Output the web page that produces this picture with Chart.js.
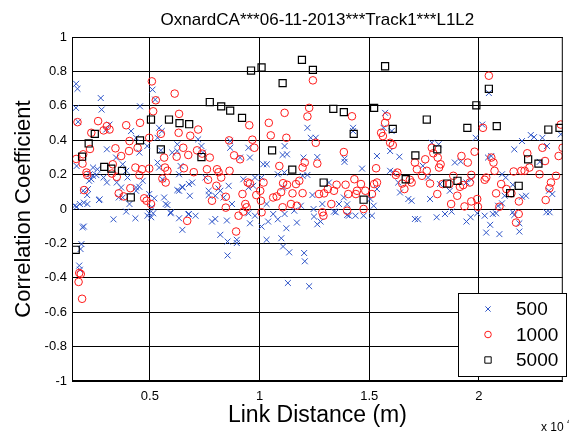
<!DOCTYPE html>
<html>
<head>
<meta charset="utf-8">
<script src="https://cdn.jsdelivr.net/npm/chart.js@4.4.0/dist/chart.umd.min.js"></script>
<style>
  html, body { margin: 0; padding: 0; background: #fff; }
</style>
</head>
<body>
<canvas id="myChart" width="569" height="431"></canvas>
<script>
const titleText = 'OxnardCA***06-11-2013***Track1***L1L2';
const xTicks = [0.5, 1, 1.5, 2];
const yTicks = [-1, -0.8, -0.6, -0.4, -0.2, 0, 0.2, 0.4, 0.6, 0.8, 1];
const seriesNames = ['500', '1000', '5000'];

// window size 500 (blue x)
const pts500 = [
  [0.164,0.728],[0.170,0.699],[0.163,0.588],[0.173,0.507],[0.276,0.645],[0.280,0.578],[0.166,0.250],[0.158,0.019],
  [0.181,0.029],[0.199,0.037],[0.215,0.029],[0.196,0.106],[0.218,0.116],[0.223,0.164],[0.233,0.173],[0.241,0.193],
  [0.226,0.202],[0.241,0.241],[0.256,0.197],[0.261,0.231],[0.268,0.052],[0.304,0.154],[0.289,0.183],[0.304,0.347],
  [0.301,0.462],[0.316,0.491],[0.346,0.299],[0.349,0.154],[0.358,0.067],[0.369,0.125],[0.376,0.067],[0.392,0.222],
  [0.376,0.260],[0.398,0.183],[0.407,0.029],[0.437,0.125],[0.437,0.106],[0.452,0.328],[0.455,0.597],[0.467,0.164],
  [0.488,0.366],[0.497,0.087],[0.509,0.010],[0.515,-0.025],[0.437,0.414],[0.414,0.453],[0.489,-0.039],[0.535,0.270],
  [0.550,0.341],[0.557,0.173],[0.166,0.013],[0.193,-0.106],[0.199,-0.102],[0.188,-0.204],[0.184,-0.233],[0.178,-0.329],
  [0.181,-0.353],[0.334,-0.060],[0.434,-0.054],[0.392,-0.015],[0.497,-0.025],[0.506,-0.048],[0.271,0.056],[0.452,0.129],
  [0.214,0.081],
  [0.512,0.694],[0.524,0.636],[0.542,0.472],[0.554,0.453],[0.535,0.414],[0.602,0.328],[0.625,0.376],[0.625,0.337],
  [0.720,0.405],[0.735,0.366],[0.742,0.328],[0.866,0.395],[0.866,0.356],[0.911,0.299],[0.956,0.299],[0.949,0.356],
  [0.542,0.241],[0.640,0.250],[0.633,0.202],[0.693,0.154],[0.678,0.145],[0.648,0.125],[0.633,0.106],[0.565,0.067],
  [0.572,0.029],[0.595,-0.019],[0.678,-0.029],[0.708,-0.039],[0.682,0.077],[0.753,0.183],[0.768,0.106],[0.798,0.077],
  [0.821,0.106],[0.836,0.067],[0.859,0.135],[0.874,0.029],[0.926,0.173],[0.949,0.125],[0.971,0.135],[0.979,0.183],
  [1.009,0.183],[1.017,0.260],[1.033,0.260],[1.032,0.029],[1.062,-0.029],[1.114,-0.029],[1.114,0.366],[1.107,0.125],
  [0.979,-0.039],[0.798,-0.058],
  [0.520,0.062],[0.595,-0.025],[0.633,-0.054],[0.648,-0.121],[0.675,-0.031],[0.783,-0.073],[0.851,-0.067],[0.821,-0.150],
  [0.854,-0.189],[0.896,-0.179],[0.896,-0.198],[0.854,-0.270],[0.956,-0.083],[1.009,-0.102],[1.032,-0.179],[1.039,-0.073],
  [1.099,-0.170],[1.107,-0.218],[1.122,-0.112],[1.129,-0.430],[0.580,0.023],[0.625,0.110],[0.648,0.129],[0.813,0.119],
  [0.768,0.081],[0.949,-0.025],
  [1.218,0.472],[1.233,0.414],[1.256,0.414],[1.426,0.472],[1.426,0.453],[1.125,0.318],[1.105,0.314],[1.200,0.299],
  [1.263,0.302],[1.387,0.293],[1.387,0.274],[1.467,0.235],[1.196,0.193],[1.218,0.198],[1.113,0.212],[1.083,0.202],
  [1.241,0.081],[1.246,0.000],[1.286,0.029],[1.347,-0.019],[1.362,0.029],[1.384,0.067],[1.399,0.027],[1.407,-0.039],
  [1.437,-0.039],[1.474,-0.039],[1.512,-0.039],[1.520,0.019],[1.505,0.058],[1.535,0.116],[1.535,0.308],[1.565,0.472],
  [1.572,0.559],[1.602,0.453],[1.595,0.337],[1.637,0.304],[1.610,0.212],[1.595,0.222],[1.632,0.154],[1.640,0.096],
  [1.678,0.058],[1.693,0.048],[1.316,0.154],[1.158,-0.010],[1.188,0.019],
  [1.083,-0.060],[1.170,-0.079],[1.135,-0.252],[1.203,-0.256],[1.206,-0.304],[1.226,-0.449],[1.263,-0.089],[1.278,-0.073],
  [1.339,-0.015],[1.399,-0.035],[1.248,-0.044],[1.708,-0.058],
  [1.785,0.385],[1.816,0.376],[1.744,0.251],[1.768,0.183],[1.822,0.145],[1.867,0.106],[1.890,0.270],[1.917,0.276],
  [1.943,0.154],[1.965,0.173],[1.985,0.414],[2.015,0.491],[2.045,0.674],[2.041,0.299],[2.056,0.308],[2.105,0.202],
  [2.122,0.183],[2.154,0.141],[2.161,0.347],[2.196,0.395],[2.236,0.430],[2.251,0.418],[2.289,0.414],[2.277,0.274],
  [2.310,0.366],[2.319,0.106],[2.334,0.087],[2.373,0.434],[2.214,0.077],[2.117,0.077],[2.087,0.019],[2.063,-0.029],
  [2.026,-0.039],[1.992,-0.025],[1.962,-0.048],[1.845,-0.029],[1.807,-0.048],[2.154,-0.019],[1.777,0.058],
  [1.875,-0.015],[1.943,-0.073],[2.051,-0.092],[2.033,-0.137],[2.093,-0.146],[2.078,-0.025],[2.105,0.033],[2.161,-0.035],
  [2.184,-0.083],[2.184,-0.131],[2.307,-0.019],[2.322,-0.019],[1.722,-0.060],[2.196,0.071]
];

// window size 1000 (red o)
const pts1000 = [
  [0.170,0.505],[0.164,0.291],[0.196,0.318],[0.193,0.264],[0.211,0.212],[0.214,0.198],[0.200,0.110],[0.227,0.349],
  [0.233,0.443],[0.264,0.511],[0.289,0.457],[0.304,0.482],[0.316,0.462],[0.343,0.353],[0.392,0.487],[0.407,0.395],
  [0.369,0.308],[0.405,0.337],[0.331,0.260],[0.327,0.206],[0.349,0.187],[0.358,0.091],[0.381,0.073],[0.411,0.121],
  [0.434,0.241],[0.452,0.197],[0.464,0.231],[0.444,0.356],[0.455,0.501],[0.497,0.235],[0.474,0.062],[0.485,0.048],
  [0.569,0.241],[0.178,-0.372],[0.185,-0.378],[0.175,-0.424],[0.191,-0.522],
  [0.509,0.742],[0.527,0.632],[0.515,0.568],[0.613,0.671],[0.633,0.553],[0.631,0.443],[0.550,0.437],[0.497,0.414],
  [0.684,0.426],[0.720,0.462],[0.652,0.356],[0.675,0.314],[0.622,0.304],[0.565,0.299],[0.715,0.341],[0.738,0.322],
  [0.773,0.299],[0.580,0.222],[0.557,0.177],[0.572,0.154],[0.655,0.237],[0.700,0.214],[0.760,0.231],[0.765,0.170],
  [0.806,0.231],[0.813,0.214],[0.863,0.222],[0.825,0.183],[0.803,0.135],[0.783,0.048],[0.846,0.071],[0.861,0.399],
  [0.884,0.312],[0.911,0.289],[0.953,0.487],[0.967,0.403],[0.976,0.356],[0.946,0.154],[0.956,0.148],[0.922,0.087],
  [0.935,0.029],[0.941,0.010],[0.904,-0.039],[0.985,0.081],[1.003,0.106],[1.018,0.154],[1.006,0.048],[1.042,0.501],
  [1.051,0.428],[1.062,0.067],[1.078,0.073],[1.098,0.098],[1.107,0.150],[1.114,0.559],[1.122,0.414],[0.505,0.029],
  [1.009,-0.019],[0.670,-0.069],[0.893,-0.131],[0.846,0.008],[0.926,-0.015],
  [1.243,0.748],[1.226,0.588],[1.218,0.538],[1.421,0.539],[1.256,0.385],[1.206,0.270],[1.196,0.241],[1.263,0.264],
  [1.384,0.331],[1.090,0.250],[1.125,0.141],[1.150,0.091],[1.166,0.145],[1.181,0.164],[1.196,0.092],[1.143,0.029],
  [1.170,0.019],[1.105,0.010],[1.271,0.087],[1.294,0.091],[1.311,0.116],[1.339,0.106],[1.327,0.029],[1.351,0.141],
  [1.392,0.141],[1.404,0.087],[1.432,0.173],[1.444,0.106],[1.462,0.145],[1.439,0.087],[1.482,0.106],[1.512,0.087],
  [1.522,0.145],[1.531,0.237],[1.535,0.154],[1.474,0.000],[1.399,-0.010],[1.286,-0.019],[1.291,-0.039],[1.554,0.443],
  [1.562,0.424],[1.572,0.501],[1.580,0.539],[1.595,0.385],[1.607,0.372],[1.628,0.212],[1.621,0.198],[1.650,0.148],
  [1.660,0.116],[1.685,0.170],[1.693,0.154],[1.708,0.270],
  [2.045,0.775],[2.018,0.472],[1.785,0.356],[1.792,0.324],[1.755,0.289],[1.717,0.231],[1.762,0.222],[1.740,0.193],
  [1.777,0.148],[1.812,0.299],[1.825,0.260],[1.818,0.241],[1.834,0.145],[1.810,0.087],[1.873,0.029],[1.883,0.193],
  [1.920,0.308],[1.949,0.270],[1.980,0.333],[1.965,0.198],[1.958,0.154],[1.913,0.129],[1.901,0.077],[1.928,0.139],
  [1.934,0.015],[1.965,0.044],[1.992,0.058],[1.995,0.013],[2.033,0.183],[2.026,0.170],[2.056,0.299],[2.071,0.222],
  [2.066,0.270],[2.101,0.145],[2.078,0.091],[2.125,0.116],[2.148,0.091],[2.182,0.044],[2.158,0.218],[2.193,0.222],
  [2.208,0.222],[2.220,0.324],[2.230,0.241],[2.276,0.202],[2.289,0.356],[2.301,0.279],[2.328,0.154],[2.321,0.121],
  [2.304,0.052],[2.351,0.193],[2.363,0.308],[2.381,0.356],[2.373,0.491],[2.181,-0.029],[1.865,0.145],[2.169,-0.079],
  [2.093,0.013]
];

// window size 5000 (black squares)
const pts5000 = [
  [0.162,-0.237],[0.191,0.304],[0.221,0.381],[0.249,0.437],[0.292,0.245],[0.324,0.235],[0.373,0.222],[0.413,0.067],
  [0.455,0.399],[0.505,0.520],[0.550,0.347],[0.587,0.520],[0.635,0.499],[0.679,0.493],[0.735,0.302],[0.773,0.622],
  [0.825,0.597],[0.866,0.572],[0.920,0.530],[0.961,0.805],[1.009,0.823],[1.057,0.341],[1.105,0.732],[1.149,0.229],
  [1.193,0.867],[1.243,0.809],[1.292,0.154],[1.336,0.582],[1.384,0.563],[1.429,0.437],[1.474,0.054],[1.522,0.588],
  [1.572,0.830],[1.607,0.466],[1.666,0.173],[1.710,0.312],[1.762,0.520],[1.810,0.347],[1.855,0.148],[1.902,0.164],
  [1.947,0.472],[1.988,0.603],[2.045,0.699],[2.081,0.482],[2.142,0.092],[2.181,0.135],[2.224,0.289],[2.271,0.264],
  [2.316,0.462],[2.367,0.472]
];

const FONT = "'Liberation Sans', Arial, Helvetica, sans-serif";
Chart.defaults.font.family = FONT;
Chart.defaults.color = '#000';

const toXY = arr => arr.map(p => ({ x: p[0], y: p[1] }));

// title over the plot, box around plot, legend in the corner, x10^4 multiplier
const extras = {
  id: 'extras',
  afterDraw(chart) {
    const ctx = chart.ctx;
    const a = chart.chartArea;
    ctx.save();
    ctx.fillStyle = '#000';
    ctx.font = '17px ' + FONT;
    ctx.textAlign = 'center';
    ctx.textBaseline = 'middle';
    ctx.fillText(titleText, (a.left + a.right) / 2, 20);

    ctx.strokeStyle = '#000';
    ctx.lineWidth = 1;
    ctx.strokeRect(a.left + 0.5, a.top + 0.5, a.right - a.left - 1, a.bottom - a.top - 1);

    const lx = 458, ly = 293, lw = 109, lh = 83;
    ctx.fillStyle = '#fff';
    ctx.fillRect(lx, ly, lw, lh);
    ctx.strokeRect(lx + 0.5, ly + 0.5, lw - 1, lh);
    chart.data.datasets.forEach((ds, i) => {
      const y = 309 + i * 25.5;
      ctx.strokeStyle = ds.borderColor;
      ctx.fillStyle = 'rgba(0,0,0,0)';
      ctx.lineWidth = 1;
      Chart.helpers.drawPoint(ctx, { pointStyle: ds.pointStyle, radius: ds.pointRadius - 0.5, borderWidth: 1, rotation: 0 }, 488, y);
      ctx.fillStyle = '#000';
      ctx.font = '19px ' + FONT;
      ctx.textAlign = 'left';
      ctx.textBaseline = 'middle';
      ctx.fillText(ds.label, 516, y + 1);
    });

    ctx.fillStyle = '#000';
    ctx.textAlign = 'left';
    ctx.textBaseline = 'alphabetic';
    ctx.font = '12px ' + FONT;
    ctx.fillText('x 10', 541, 431);
    ctx.font = '9px ' + FONT;
    ctx.fillText('4', 567, 424);
    ctx.restore();
  }
};

const fmtY = v => {
  const s = Number(v.toFixed(1));
  return (s === 0 ? 0 : s).toString();
};

new Chart(document.getElementById('myChart'), {
  type: 'scatter',
  data: {
    datasets: [
      {
        label: seriesNames[0],
        data: toXY(pts500),
        pointStyle: 'crossRot',
        pointRadius: 4.2,
        borderColor: '#2f55c8',
        backgroundColor: 'rgba(0,0,0,0)',
        pointBorderWidth: 1,
        order: 3
      },
      {
        label: seriesNames[1],
        data: toXY(pts1000),
        pointStyle: 'circle',
        pointRadius: 3.8,
        borderColor: '#ff1a1a',
        backgroundColor: 'rgba(0,0,0,0)',
        pointBorderWidth: 1,
        order: 2
      },
      {
        label: seriesNames[2],
        data: toXY(pts5000),
        pointStyle: 'rect',
        pointRadius: 5,
        borderColor: '#000',
        backgroundColor: 'rgba(0,0,0,0)',
        pointBorderWidth: 1.2,
        order: 1
      }
    ]
  },
  options: {
    responsive: false,
    animation: false,
    events: [],
    layout: { padding: { top: 37, right: 2, left: 0, bottom: 0 } },
    plugins: {
      legend: { display: false },
      tooltip: { enabled: false },
      title: { display: false }
    },
    scales: {
      x: {
        type: 'linear',
        min: 0.145,
        max: 2.382,
        afterBuildTicks: scale => { scale.ticks = xTicks.map(v => ({ value: v })); },
        afterFit: scale => { scale.height = 50; },
        ticks: {
          font: { size: 13 },
          color: '#000',
          padding: 8,
          maxRotation: 0,
          callback: v => String(v)
        },
        grid: { color: '#000', lineWidth: 1, drawTicks: false },
        border: { color: '#000', width: 1 },
        title: {
          display: true,
          text: 'Link Distance (m)',
          font: { size: 23 },
          color: '#000',
          padding: { top: 0, bottom: 2 }
        }
      },
      y: {
        type: 'linear',
        min: -1,
        max: 1,
        afterBuildTicks: scale => { scale.ticks = yTicks.map(v => ({ value: v })); },
        afterFit: scale => { scale.width = 72; },
        ticks: {
          font: { size: 13 },
          color: '#000',
          padding: 5,
          callback: v => fmtY(v)
        },
        grid: { color: '#000', lineWidth: 1, drawTicks: false },
        border: { color: '#000', width: 1 },
        title: {
          display: true,
          text: 'Correlation Coefficient',
          font: { size: 22 },
          color: '#000',
          padding: { top: 11, bottom: 0 }
        }
      }
    }
  },
  plugins: [extras]
});
</script>
</body>
</html>
